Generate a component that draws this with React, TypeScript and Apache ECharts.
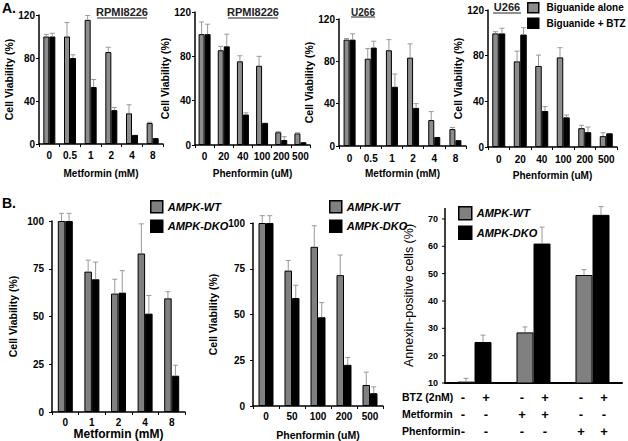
import React, { useEffect, useRef } from "react";
import * as echarts from "echarts";

const FONT = "'Liberation Sans', Arial, Helvetica, sans-serif";

// ---------- Panel A data ----------
const metforminA = ["0", "0.5", "1", "2", "4", "8"];
const phenforminA = ["0", "20", "40", "100", "200", "500"];
const legendA = ["Biguanide alone", "Biguanide + BTZ"];

const rpmiMetAlone = [100, 100, 115.5, 85.5, 28.5, 19.5];
const rpmiMetAloneErr = [2, 13, 4, 4.5, 8, 0.8];
const rpmiMetBtz = [100, 80, 53, 31.5, 8.5, 5.5];
const rpmiMetBtzErr = [3, 3, 7, 2.5, 0, 0];

const rpmiPhenAlone = [100, 85.5, 75.5, 71.5, 11.5, 10.5];
const rpmiPhenAloneErr = [11, 3.5, 5, 8.5, 0.5, 0.5];
const rpmiPhenBtz = [100, 89, 27.5, 20, 4.5, 2.5];
const rpmiPhenBtzErr = [9, 11, 1.5, 0, 3, 0];

const u266MetAlone = [100.5, 82.5, 90.5, 83.5, 24.5, 16];
const u266MetAloneErr = [1, 9.5, 10, 13, 8, 1.5];
const u266MetBtz = [100.5, 93, 56, 36, 8.5, 5.5];
const u266MetBtzErr = [5.5, 6, 12, 4, 0, 0];

const u266PhenAlone = [99.5, 75, 71, 78.5, 16.5, 9.5];
const u266PhenAloneErr = [1.5, 9, 9.5, 8.5, 2.5, 3];
const u266PhenBtz = [99.5, 98.5, 31.5, 26, 13, 12];
const u266PhenBtzErr = [4.5, 6, 4, 2, 4.5, 0];

// ---------- Panel B data ----------
const metforminB = ["0", "1", "2", "4", "8"];
const phenforminB = ["0", "50", "100", "200", "500"];
const legendB = ["AMPK-WT", "AMPK-DKO"];

const metWt = [100, 73.5, 62, 83, 59.5];
const metWtErr = [4, 6, 7.5, 15.5, 3.5];
const metDko = [100, 69.5, 62.5, 51.5, 19];
const metDkoErr = [4, 9, 11.5, 9.5, 5.5];

const phenWt = [100, 74, 87, 71.5, 11.5];
const phenWtErr = [4, 5.5, 11.5, 11, 7];
const phenDko = [100, 59, 48.5, 22.5, 7];
const phenDkoErr = [4, 7, 8, 4, 3.5];

const annexinGroups = ["Control", "Metformin", "Phenformin"];
const annexinWt = [10.5, 28.5, 49.5];
const annexinWtErr = [1.2, 2, 2];
const annexinDko = [25, 61, 71.5];
const annexinDkoErr = [2.5, 6, 3];

const rowLabels = ["BTZ (2nM)", "Metformin", "Phenformin"];
const btzSigns = [["-", "+"], ["-", "+"], ["-", "+"]];
const metSigns = [["-", "-"], ["+", "+"], ["-", "-"]];
const phenSigns = [["-", "-"], ["-", "-"], ["+", "+"]];

const yRangeA = [0, 120, 40];
const yRangeB = [0, 100, 25];
const annexinTicks = [10, 20, 30, 40, 50, 60, 70];
const annexinRange = [10, 74];

// ---------- layout ----------
const panels: any[] = [
  {
    cats: metforminA, names: legendA, v1: rpmiMetAlone, e1: rpmiMetAloneErr, v2: rpmiMetBtz, e2: rpmiMetBtzErr,
    grid: { left: 39, top: 15, width: 124, height: 129 }, y: yRangeA,
    xName: "Metformin (mM)", yName: "Cell Viability (%)", bw: 6, gray: "#8c8c8c",
    xLabelMargin: 6, xNameGap: 24, yNameGap: 22, yLabelMargin: 4, labelSize: 10, xNameSize: 10, yNameSize: 10.5,
  },
  {
    cats: phenforminA, names: legendA, v1: rpmiPhenAlone, e1: rpmiPhenAloneErr, v2: rpmiPhenBtz, e2: rpmiPhenBtzErr,
    grid: { left: 195, top: 12, width: 115, height: 133 }, y: yRangeA,
    xName: "Phenformin (uM)", yName: "Cell Viability (%)", bw: 6, gray: "#8c8c8c",
    xLabelMargin: 6, xNameGap: 23, yNameGap: 10, yLabelMargin: 4, labelSize: 10, xNameSize: 10, yNameSize: 10.5,
  },
  {
    cats: metforminA, names: legendA, v1: u266MetAlone, e1: u266MetAloneErr, v2: u266MetBtz, e2: u266MetBtzErr,
    grid: { left: 339, top: 19, width: 127, height: 127 }, y: yRangeA,
    xName: "Metformin (mM)", yName: "Cell Viability (%)", bw: 6, gray: "#8c8c8c",
    xLabelMargin: 7, xNameGap: 22, yNameGap: 20, yLabelMargin: 4, labelSize: 10, xNameSize: 10, yNameSize: 10.5,
  },
  {
    cats: phenforminA, names: legendA, v1: u266PhenAlone, e1: u266PhenAloneErr, v2: u266PhenBtz, e2: u266PhenBtzErr,
    grid: { left: 488, top: 10, width: 129, height: 137 }, y: yRangeA,
    xName: "Phenformin (uM)", yName: "Cell Viability (%)", bw: 6.5, gray: "#8c8c8c",
    xLabelMargin: 7, xNameGap: 23, yNameGap: 20, yLabelMargin: 4, labelSize: 10, xNameSize: 10, yNameSize: 10.5,
  },
  {
    cats: metforminB, names: legendB, v1: metWt, e1: metWtErr, v2: metDko, e2: metDkoErr,
    grid: { left: 52, top: 221, width: 133, height: 191 }, y: yRangeB,
    xName: "Metformin (mM)", yName: "Cell Viability (%)", bw: 7.5, gray: "#808080",
    xLabelMargin: 5, xNameGap: 14, yNameGap: 34, yLabelMargin: 8, labelSize: 10, xNameSize: 12, yNameSize: 10.5,
  },
  {
    cats: phenforminB, names: legendB, v1: phenWt, e1: phenWtErr, v2: phenDko, e2: phenDkoErr,
    grid: { left: 253, top: 223, width: 130, height: 186 }, y: yRangeB,
    xName: "Phenformin (uM)", yName: "Cell Viability (%)", bw: 7.5, gray: "#808080",
    xLabelMargin: 5, xNameGap: 23, yNameGap: 35, yLabelMargin: 8, labelSize: 10, xNameSize: 10.5, yNameSize: 10.5,
  },
  {
    cats: annexinGroups, names: legendB, v1: annexinWt, e1: annexinWtErr, v2: annexinDko, e2: annexinDkoErr,
    grid: { left: 445, top: 208, width: 177, height: 175 }, range: annexinRange, ticks: annexinTicks,
    yName: "Annexin-positive cells (%)", bw: 17, gray: "#808080",
    yNameGap: 30, yLabelMargin: 7, labelSize: 9, yNameSize: 12.5,
    signTable: true, xLineWidth: 2,
  },
];
const SIGN_AXIS = 6;

const titles = [
  { text: "RPMI8226", x: 122, y: 12, size: 11, ul: [97, 147, 18] },
  { text: "RPMI8226", x: 253, y: 12, size: 11, ul: [228, 278, 18] },
  { text: "U266", x: 363, y: 12, size: 10, ul: [351, 375, 17] },
  { text: "U266", x: 507, y: 7, size: 11, ul: [493, 521, 13] },
];
const rowY = [397, 414, 431];

function buildGraphic(): any[] {
  const graphic: any[] = [
    { type: "text", x: 2, y: 1, style: { text: "A.", fontFamily: FONT, fontWeight: "bold", fontSize: 14, fill: "#000" } },
    { type: "text", x: 2, y: 196, style: { text: "B.", fontFamily: FONT, fontWeight: "bold", fontSize: 14, fill: "#000" } },
  ];
  titles.forEach((t) => {
    graphic.push({
      type: "text",
      x: t.x,
      y: t.y,
      style: { text: t.text, fontFamily: FONT, fontWeight: "bold", fontSize: t.size, fill: "#222", align: "center", verticalAlign: "middle" },
    });
    graphic.push({
      type: "line",
      shape: { x1: t.ul[0], y1: t.ul[2], x2: t.ul[1], y2: t.ul[2] },
      style: { stroke: "#222", lineWidth: 1 },
    });
  });
  rowLabels.forEach((r, k) => {
    graphic.push({
      type: "text",
      x: 402,
      y: rowY[k],
      style: { text: r, fontFamily: FONT, fontWeight: "bold", fontSize: 10.5, fill: "#000", align: "left", verticalAlign: "middle" },
    });
  });
  return graphic;
}

function buildOption() {
  const grid = panels.map((p) => ({ ...p.grid }));
  const xAxis = panels.map((p, i) => {
    if (p.signTable) {
      return {
        type: "category",
        gridIndex: i,
        data: p.cats,
        axisLine: { show: true, lineStyle: { color: "#000", width: p.xLineWidth } },
        axisTick: { show: false },
        axisLabel: { show: false },
      };
    }
    return {
      type: "category",
      gridIndex: i,
      data: p.cats,
      axisLine: { show: true, lineStyle: { color: "#000", width: 1.5 } },
      axisTick: { show: true, length: 3, lineStyle: { color: "#000", width: 1 } },
      axisLabel: { interval: 0, margin: p.xLabelMargin, color: "#000", fontFamily: FONT, fontWeight: "bold", fontSize: p.labelSize },
      name: p.xName,
      nameLocation: "middle",
      nameGap: p.xNameGap,
      nameTextStyle: { color: "#000", fontFamily: FONT, fontWeight: "bold", fontSize: p.xNameSize },
    };
  });
  const yAxis = panels.map((p, i) => {
    const ax: any = {
      type: "value",
      gridIndex: i,
      splitLine: { show: false },
      axisLine: { show: true, lineStyle: { color: "#000", width: 1.5 } },
      axisTick: { show: true, length: 3, lineStyle: { color: "#000" } },
      axisLabel: { margin: p.yLabelMargin, color: "#000", fontFamily: FONT, fontWeight: "bold", fontSize: p.labelSize },
      name: p.yName,
      nameLocation: "middle",
      nameGap: p.yNameGap,
      nameTextStyle: { color: "#000", fontFamily: FONT, fontWeight: p.signTable ? "normal" : "bold", fontSize: p.yNameSize },
    };
    if (p.ticks) {
      ax.min = p.range[0];
      ax.max = p.range[1];
      // line, ticks and labels of this axis are drawn below from the axis' own scale
      ax.axisLine = { show: false };
      ax.axisTick = { show: false };
      ax.axisLabel = { show: false };
    } else {
      ax.min = p.y[0];
      ax.max = p.y[1];
      ax.interval = p.y[2];
    }
    return ax;
  });

  const series: any[] = [];
  panels.forEach((p, i) => {
    series.push({
      type: "bar",
      name: p.names[0],
      xAxisIndex: i,
      yAxisIndex: i,
      data: p.v1,
      barWidth: p.bw,
      barGap: "0%",
      itemStyle: { color: p.gray, borderColor: "#000", borderWidth: 1 },
    });
    series.push({
      type: "bar",
      name: p.names[1],
      xAxisIndex: i,
      yAxisIndex: i,
      data: p.v2,
      barWidth: p.bw,
      barGap: "0%",
      itemStyle: { color: "#000", borderColor: "#000", borderWidth: 1 },
    });
    const errData: number[][] = [];
    p.v1.forEach((v: number, k: number) => errData.push([k, v, p.e1[k], -1]));
    p.v2.forEach((v: number, k: number) => errData.push([k, v, p.e2[k], 1]));
    const bw = p.bw;
    series.push({
      type: "custom",
      xAxisIndex: i,
      yAxisIndex: i,
      data: errData,
      z: 5,
      clip: false,
      silent: true,
      renderItem: (_params: any, api: any) => {
        const cat = api.value(0);
        const v = api.value(1);
        const e = api.value(2);
        const side = api.value(3);
        if (!e) return { type: "group", children: [] };
        const base = api.coord([cat, v]);
        const top = api.coord([cat, v + e]);
        const x = base[0] + (side * bw) / 2;
        const style = { stroke: "#999", lineWidth: 1 };
        return {
          type: "group",
          children: [
            { type: "line", shape: { x1: x, y1: base[1], x2: x, y2: top[1] }, style },
            { type: "line", shape: { x1: x - 2.5, y1: top[1], x2: x + 2.5, y2: top[1] }, style },
          ],
        };
      },
    });
  });

  const legendBase = {
    orient: "vertical",
    padding: 0,
    selectedMode: false,
    icon: "rect",
    itemStyle: { borderColor: "#000", borderWidth: 1.5 },
  };
  const legendBText = { color: "#000", fontFamily: FONT, fontWeight: "bold", fontStyle: "italic", fontSize: 11 };
  const legend = [
    {
      ...legendBase,
      data: legendA,
      left: 527,
      top: 2,
      itemWidth: 11,
      itemHeight: 10,
      itemGap: 4,
      formatter: (n: string) => " " + n,
      textStyle: { color: "#000", fontFamily: FONT, fontWeight: "bold", fontSize: 10 },
    },
    { ...legendBase, data: legendB, left: 150, top: 200, itemWidth: 12, itemHeight: 12, itemGap: 6, textStyle: legendBText },
    { ...legendBase, data: legendB, left: 329, top: 200, itemWidth: 12, itemHeight: 12, itemGap: 6, textStyle: legendBText },
    { ...legendBase, data: legendB, left: 458, top: 206, itemWidth: 13, itemHeight: 13, itemGap: 5, textStyle: legendBText },
  ];

  return {
    animation: false,
    backgroundColor: "#fff",
    grid,
    xAxis,
    yAxis,
    series,
    legend,
    graphic: buildGraphic(),
  };
}

export default function App() {
  const ref = useRef<HTMLDivElement>(null);
  useEffect(() => {
    if (!ref.current) return;
    const chart = echarts.init(ref.current, undefined, { renderer: "svg" });
    chart.setOption(buildOption() as any);
    const extra: any[] = [];
    // +/- treatment table: columns placed from the category axis of the annexin panel
    const rows = [btzSigns, metSigns, phenSigns];
    annexinGroups.forEach((g, k) => {
      const cx = chart.convertToPixel({ xAxisIndex: SIGN_AXIS } as any, g) as any as number;
      if (typeof cx !== "number" || isNaN(cx)) return;
      rows.forEach((row, r) => {
        row[k].forEach((s, j) => {
          extra.push({
            type: "text",
            z: 100,
            x: cx + (j === 0 ? -11.5 : 11.5),
            y: rowY[r],
            style: { text: s, fontFamily: FONT, fontWeight: "bold", fontSize: 13, fill: "#000", align: "center", verticalAlign: "middle" },
          });
        });
      });
    });
    // value axis of the annexin panel, positioned through its own scale
    const p6 = panels[SIGN_AXIS];
    const x0 = p6.grid.left;
    const toY = (v: number) => chart.convertToPixel({ yAxisIndex: SIGN_AXIS } as any, v) as any as number;
    const yTop = toY(p6.range[1]);
    const yBot = toY(p6.range[0]);
    if (typeof yTop === "number" && !isNaN(yTop)) {
      extra.push({ type: "line", z: 100, shape: { x1: x0, y1: yTop, x2: x0, y2: yBot }, style: { stroke: "#000", lineWidth: 1.5 } });
      p6.ticks.forEach((v: number) => {
        const yy = toY(v);
        extra.push({ type: "line", z: 100, shape: { x1: x0 - 3, y1: yy, x2: x0, y2: yy }, style: { stroke: "#000", lineWidth: 1 } });
        extra.push({
          type: "text",
          z: 100,
          x: x0 - p6.yLabelMargin,
          y: yy,
          style: { text: String(v), fontFamily: FONT, fontWeight: "bold", fontSize: p6.labelSize, fill: "#000", align: "right", verticalAlign: "middle" },
        });
      });
    }
    chart.setOption({ graphic: [...buildGraphic(), ...extra] } as any);
    return () => chart.dispose();
  }, []);
  return (
    <div
      ref={ref}
      style={{ position: "fixed", left: 0, top: 0, width: 628, height: 441, background: "#fff" }}
    />
  );
}
